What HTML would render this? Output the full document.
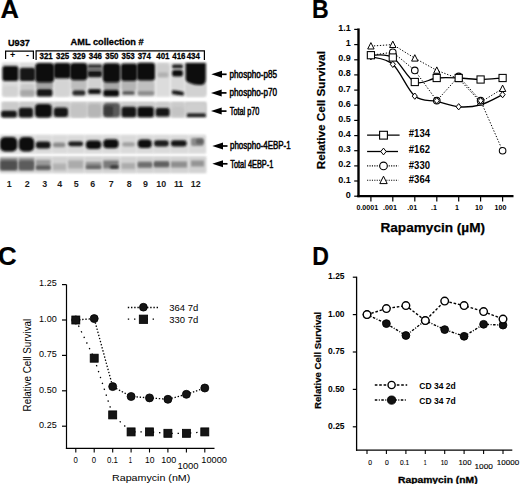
<!DOCTYPE html><html><head><meta charset="utf-8"><style>html,body{margin:0;padding:0;background:#fff;}svg{display:block;}text{font-family:"Liberation Sans", sans-serif;}</style></head><body>
<svg width="520" height="484" viewBox="0 0 520 484">
<defs><filter id="b1" x="-30%" y="-50%" width="160%" height="200%"><feGaussianBlur stdDeviation="1.3"/></filter><filter id="b2" x="-30%" y="-50%" width="160%" height="200%"><feGaussianBlur stdDeviation="0.85"/></filter><filter id="b3" x="-30%" y="-50%" width="160%" height="200%"><feGaussianBlur stdDeviation="1.8"/></filter></defs>
<rect width="520" height="484" fill="#fff"/>
<text x="0.5" y="17.8" font-size="25.5" font-weight="bold" text-anchor="start" fill="#000" stroke="#000" stroke-width="0.2">A</text>
<text x="312.1" y="17.6" font-size="25.5" font-weight="bold" text-anchor="start" fill="#000" textLength="16.7" lengthAdjust="spacingAndGlyphs" stroke="#000" stroke-width="0.2">B</text>
<text x="-2.1" y="264.7" font-size="25.8" font-weight="bold" text-anchor="start" fill="#000" stroke="#000" stroke-width="0.2">C</text>
<text x="312.3" y="264.6" font-size="25.5" font-weight="bold" text-anchor="start" fill="#000" textLength="16.7" lengthAdjust="spacingAndGlyphs" stroke="#000" stroke-width="0.2">D</text>
<text x="8.0" y="46.3" font-size="9.9" font-weight="bold" text-anchor="start" fill="#000" textLength="21.8" lengthAdjust="spacingAndGlyphs" stroke="#000" stroke-width="0.3">U937</text>
<text x="70.6" y="45.2" font-size="9.6" font-weight="bold" text-anchor="start" fill="#000" textLength="73" lengthAdjust="spacingAndGlyphs" stroke="#000" stroke-width="0.3">AML collection #</text>
<path d="M5.6,59 V51.2 H33.4 V59" fill="none" stroke="#000" stroke-width="1.2"/>
<path d="M36.1,60 V50.9 H204.4 V60" fill="none" stroke="#000" stroke-width="1.2"/>
<text x="12.6" y="57.6" font-size="9" font-weight="bold" text-anchor="middle" fill="#000" >+</text>
<text x="27.4" y="57.6" font-size="9" font-weight="bold" text-anchor="middle" fill="#000" >-</text>
<text x="39.5" y="59.4" font-size="9.9" font-weight="bold" text-anchor="start" fill="#000" textLength="13.2" lengthAdjust="spacingAndGlyphs" stroke="#000" stroke-width="0.3">321</text>
<text x="56.0" y="59.4" font-size="9.9" font-weight="bold" text-anchor="start" fill="#000" textLength="13.2" lengthAdjust="spacingAndGlyphs" stroke="#000" stroke-width="0.3">325</text>
<text x="72.4" y="59.4" font-size="9.9" font-weight="bold" text-anchor="start" fill="#000" textLength="13.2" lengthAdjust="spacingAndGlyphs" stroke="#000" stroke-width="0.3">329</text>
<text x="88.8" y="59.4" font-size="9.9" font-weight="bold" text-anchor="start" fill="#000" textLength="13.2" lengthAdjust="spacingAndGlyphs" stroke="#000" stroke-width="0.3">346</text>
<text x="105.3" y="59.4" font-size="9.9" font-weight="bold" text-anchor="start" fill="#000" textLength="13.2" lengthAdjust="spacingAndGlyphs" stroke="#000" stroke-width="0.3">350</text>
<text x="121.5" y="59.4" font-size="9.9" font-weight="bold" text-anchor="start" fill="#000" textLength="13.2" lengthAdjust="spacingAndGlyphs" stroke="#000" stroke-width="0.3">353</text>
<text x="137.7" y="59.4" font-size="9.9" font-weight="bold" text-anchor="start" fill="#000" textLength="13.2" lengthAdjust="spacingAndGlyphs" stroke="#000" stroke-width="0.3">374</text>
<text x="156.3" y="59.4" font-size="9.9" font-weight="bold" text-anchor="start" fill="#000" textLength="13.2" lengthAdjust="spacingAndGlyphs" stroke="#000" stroke-width="0.3">401</text>
<text x="172.3" y="59.4" font-size="9.9" font-weight="bold" text-anchor="start" fill="#000" textLength="13.2" lengthAdjust="spacingAndGlyphs" stroke="#000" stroke-width="0.3">416</text>
<text x="186.7" y="59.4" font-size="9.9" font-weight="bold" text-anchor="start" fill="#000" textLength="13.2" lengthAdjust="spacingAndGlyphs" stroke="#000" stroke-width="0.3">434</text>
<rect x="2" y="62.7" width="204.3" height="33.9" fill="#ebebeb" filter="url(#b2)"/>
<rect x="1.5" y="101.9" width="205" height="15.5" fill="#d6d6d6" filter="url(#b2)"/>
<rect x="0" y="134.7" width="206" height="19" fill="#e6e6e6" filter="url(#b2)"/>
<rect x="0" y="156.2" width="206.5" height="17" fill="#e0e0e0" filter="url(#b2)"/>
<rect x="2.5" y="63.0" width="15.5" height="33.4" rx="0.0" fill="#dcdcdc" filter="url(#b2)"/>
<rect x="2.5" y="102.2" width="15.5" height="15.1" rx="0.0" fill="#cbcbcb" filter="url(#b2)"/>
<rect x="20.0" y="63.0" width="14.7" height="33.4" rx="0.0" fill="#dcdcdc" filter="url(#b2)"/>
<rect x="20.0" y="102.2" width="14.7" height="15.1" rx="0.0" fill="#cbcbcb" filter="url(#b2)"/>
<rect x="35.5" y="63.0" width="18.0" height="33.4" rx="0.0" fill="#dcdcdc" filter="url(#b2)"/>
<rect x="35.5" y="102.2" width="18.0" height="15.1" rx="0.0" fill="#cbcbcb" filter="url(#b2)"/>
<rect x="54.3" y="63.0" width="15.7" height="33.4" rx="0.0" fill="#dcdcdc" filter="url(#b2)"/>
<rect x="54.3" y="102.2" width="15.7" height="15.1" rx="0.0" fill="#cbcbcb" filter="url(#b2)"/>
<rect x="71.0" y="63.0" width="16.0" height="33.4" rx="0.0" fill="#dcdcdc" filter="url(#b2)"/>
<rect x="71.0" y="102.2" width="16.0" height="15.1" rx="0.0" fill="#cbcbcb" filter="url(#b2)"/>
<rect x="88.0" y="63.0" width="13.6" height="33.4" rx="0.0" fill="#dcdcdc" filter="url(#b2)"/>
<rect x="88.0" y="102.2" width="13.6" height="15.1" rx="0.0" fill="#cbcbcb" filter="url(#b2)"/>
<rect x="103.3" y="63.0" width="16.7" height="33.4" rx="0.0" fill="#dcdcdc" filter="url(#b2)"/>
<rect x="103.3" y="102.2" width="16.7" height="15.1" rx="0.0" fill="#cbcbcb" filter="url(#b2)"/>
<rect x="121.5" y="63.0" width="15.1" height="33.4" rx="0.0" fill="#dcdcdc" filter="url(#b2)"/>
<rect x="121.5" y="102.2" width="15.1" height="15.1" rx="0.0" fill="#cbcbcb" filter="url(#b2)"/>
<rect x="137.5" y="63.0" width="17.0" height="33.4" rx="0.0" fill="#dcdcdc" filter="url(#b2)"/>
<rect x="137.5" y="102.2" width="17.0" height="15.1" rx="0.0" fill="#cbcbcb" filter="url(#b2)"/>
<rect x="156.5" y="63.0" width="13.0" height="33.4" rx="0.0" fill="#dcdcdc" filter="url(#b2)"/>
<rect x="156.5" y="102.2" width="13.0" height="15.1" rx="0.0" fill="#cbcbcb" filter="url(#b2)"/>
<rect x="171.5" y="63.0" width="12.5" height="33.4" rx="0.0" fill="#dcdcdc" filter="url(#b2)"/>
<rect x="171.5" y="102.2" width="12.5" height="15.1" rx="0.0" fill="#cbcbcb" filter="url(#b2)"/>
<rect x="185.4" y="63.0" width="20.6" height="33.4" rx="0.0" fill="#dcdcdc" filter="url(#b2)"/>
<rect x="185.4" y="102.2" width="20.6" height="15.1" rx="0.0" fill="#cbcbcb" filter="url(#b2)"/>
<rect x="3.0" y="86.0" width="14.5" height="10.3" rx="2.6" fill="#d2d2d2" filter="url(#b1)"/>
<rect x="20.5" y="84.0" width="13.8" height="12.3" rx="3.1" fill="#cacaca" filter="url(#b1)"/>
<rect x="20.5" y="90.0" width="13.8" height="6.3" rx="1.6" fill="#a8a8a8" filter="url(#b1)"/>
<rect x="36.0" y="81.0" width="17.0" height="8.0" rx="2.0" fill="#a4a4a4" filter="url(#b1)"/>
<rect x="55.0" y="80.0" width="14.5" height="16.3" rx="3.6" fill="#d4d4d4" filter="url(#b1)"/>
<rect x="71.0" y="79.0" width="15.5" height="11.0" rx="2.8" fill="#bdbdbd" filter="url(#b1)"/>
<rect x="88.5" y="77.0" width="12.5" height="12.0" rx="3.0" fill="#d2d2d2" filter="url(#b1)"/>
<rect x="103.5" y="81.0" width="16.3" height="9.0" rx="2.2" fill="#a8a8a8" filter="url(#b1)"/>
<rect x="121.5" y="80.0" width="14.9" height="11.0" rx="2.8" fill="#b4b4b4" filter="url(#b1)"/>
<rect x="137.5" y="80.0" width="16.9" height="16.0" rx="4.0" fill="#c0c0c0" filter="url(#b1)"/>
<rect x="156.5" y="64.0" width="12.0" height="8.0" rx="2.0" fill="#d4d4d4" filter="url(#b1)"/>
<rect x="172.0" y="77.0" width="11.7" height="13.0" rx="2.9" fill="#d8d8d8" filter="url(#b1)"/>
<rect x="185.5" y="82.0" width="20.5" height="14.5" rx="3.6" fill="#d2d2d2" filter="url(#b1)"/>
<rect x="2.4" y="66.0" width="16.0" height="15.0" rx="2.5" fill="#0e0e0e" filter="url(#b2)"/>
<rect x="19.6" y="67.8" width="15.6" height="13.2" rx="2.5" fill="#141414" filter="url(#b2)"/>
<rect x="35.2" y="63.0" width="19.0" height="19.5" rx="4.0" fill="#0a0a0a" filter="url(#b2)"/>
<rect x="53.8" y="63.0" width="16.8" height="15.6" rx="3.0" fill="#0e0e0e" filter="url(#b2)"/>
<rect x="70.0" y="63.0" width="17.6" height="17.2" rx="4.0" fill="#0a0a0a" filter="url(#b2)"/>
<rect x="87.7" y="64.2" width="14.3" height="4.3" rx="1.5" fill="#383838" filter="url(#b2)"/>
<rect x="87.7" y="70.3" width="14.3" height="7.0" rx="2.0" fill="#121212" filter="url(#b2)"/>
<rect x="87.7" y="68.3" width="14.3" height="2.4" rx="0.0" fill="#606060" filter="url(#b2)"/>
<rect x="102.7" y="63.2" width="17.7" height="19.3" rx="4.0" fill="#0a0a0a" filter="url(#b2)"/>
<rect x="120.9" y="63.6" width="16.3" height="17.4" rx="3.0" fill="#0e0e0e" filter="url(#b2)"/>
<rect x="136.9" y="62.8" width="18.1" height="17.7" rx="3.0" fill="#0a0a0a" filter="url(#b2)"/>
<rect x="157.0" y="64.0" width="12.0" height="14.0" rx="3.0" fill="#cdcdcd" filter="url(#b1)"/>
<rect x="158.1" y="72.5" width="9.9" height="4.5" rx="1.1" fill="#b0b0b0" filter="url(#b1)"/>
<rect x="172.1" y="64.5" width="10.8" height="3.8" rx="1.5" fill="#1a1a1a" filter="url(#b2)"/>
<rect x="172.1" y="69.9" width="10.8" height="6.6" rx="2.0" fill="#111" filter="url(#b2)"/>
<path d="M185.6,63 H205.8 V79 C205.8,84 203,85.5 199,85 C194,84.8 190,83.5 187.5,82 C186,81 185.6,80 185.6,78 Z" fill="#0c0c0c" filter="url(#b2)"/>
<rect x="36.7" y="88.9" width="15.7" height="7.5" rx="2.0" fill="#141414" filter="url(#b2)"/>
<rect x="72.5" y="90.2" width="12.8" height="5.3" rx="2.0" fill="#2a2a2a" filter="url(#b2)"/>
<rect x="88.2" y="88.9" width="12.6" height="5.1" rx="1.5" fill="#121212" filter="url(#b2)"/>
<rect x="103.3" y="89.8" width="15.7" height="6.6" rx="2.0" fill="#101010" filter="url(#b2)"/>
<rect x="122.3" y="91.0" width="12.4" height="3.7" rx="1.5" fill="#5a5a5a" filter="url(#b2)"/>
<rect x="138.0" y="91.2" width="16.0" height="3.7" rx="1.5" fill="#8a8a8a" filter="url(#b2)"/>
<path d="M172.1,90.2 Q178,90.5 183.7,92 V95.5 Q178,95 172.1,94 Z" fill="#121212" filter="url(#b2)"/>
<rect x="1.1" y="110.8" width="15.7" height="6.7" rx="2.0" fill="#141414" filter="url(#b2)"/>
<rect x="18.8" y="107.8" width="14.2" height="9.7" rx="2.5" fill="#141414" filter="url(#b2)"/>
<rect x="35.0" y="104.0" width="16.8" height="13.5" rx="4.0" fill="#0c0c0c" filter="url(#b2)"/>
<rect x="53.8" y="107.4" width="14.2" height="9.5" rx="3.0" fill="#161616" filter="url(#b2)"/>
<rect x="71.0" y="104.0" width="15.0" height="13.0" rx="3.2" fill="#c4c4c4" filter="url(#b1)"/>
<rect x="88.0" y="104.0" width="13.0" height="13.0" rx="3.2" fill="#b6b6b6" filter="url(#b1)"/>
<rect x="103.4" y="103.0" width="16.6" height="14.3" rx="3.6" fill="#5a5a5a" filter="url(#b1)"/>
<rect x="104.0" y="106.0" width="9.0" height="10.0" rx="2.2" fill="#3a3a3a" filter="url(#b1)"/>
<rect x="121.5" y="106.8" width="14.7" height="10.5" rx="2.5" fill="#161616" filter="url(#b2)"/>
<rect x="137.4" y="106.8" width="16.4" height="10.5" rx="2.5" fill="#101010" filter="url(#b2)"/>
<rect x="155.6" y="107.9" width="14.0" height="8.6" rx="2.5" fill="#121212" filter="url(#b2)"/>
<rect x="172.0" y="107.0" width="12.0" height="9.0" rx="2.2" fill="#c4c4c4" filter="url(#b1)"/>
<rect x="186.0" y="104.0" width="19.7" height="9.0" rx="2.2" fill="#cfcfcf" filter="url(#b1)"/>
<rect x="187.0" y="113.5" width="18.7" height="3.6" rx="0.9" fill="#1a1a1a" filter="url(#b2)"/>
<rect x="0.5" y="135.5" width="17.0" height="17.5" rx="0.0" fill="#dadada" filter="url(#b1)"/>
<rect x="0.5" y="157.0" width="17.0" height="15.5" rx="0.0" fill="#d2d2d2" filter="url(#b1)"/>
<rect x="18.5" y="135.5" width="16.0" height="17.5" rx="0.0" fill="#dadada" filter="url(#b1)"/>
<rect x="18.5" y="157.0" width="16.0" height="15.5" rx="0.0" fill="#d2d2d2" filter="url(#b1)"/>
<rect x="35.5" y="135.5" width="16.0" height="17.5" rx="0.0" fill="#dadada" filter="url(#b1)"/>
<rect x="35.5" y="157.0" width="16.0" height="15.5" rx="0.0" fill="#d2d2d2" filter="url(#b1)"/>
<rect x="52.5" y="135.5" width="14.5" height="17.5" rx="0.0" fill="#dadada" filter="url(#b1)"/>
<rect x="52.5" y="157.0" width="14.5" height="15.5" rx="0.0" fill="#d2d2d2" filter="url(#b1)"/>
<rect x="67.5" y="135.5" width="16.5" height="17.5" rx="0.0" fill="#dadada" filter="url(#b1)"/>
<rect x="67.5" y="157.0" width="16.5" height="15.5" rx="0.0" fill="#d2d2d2" filter="url(#b1)"/>
<rect x="85.0" y="135.5" width="17.0" height="17.5" rx="0.0" fill="#dadada" filter="url(#b1)"/>
<rect x="85.0" y="157.0" width="17.0" height="15.5" rx="0.0" fill="#d2d2d2" filter="url(#b1)"/>
<rect x="102.5" y="135.5" width="17.0" height="17.5" rx="0.0" fill="#dadada" filter="url(#b1)"/>
<rect x="102.5" y="157.0" width="17.0" height="15.5" rx="0.0" fill="#d2d2d2" filter="url(#b1)"/>
<rect x="121.0" y="135.5" width="15.0" height="17.5" rx="0.0" fill="#dadada" filter="url(#b1)"/>
<rect x="121.0" y="157.0" width="15.0" height="15.5" rx="0.0" fill="#d2d2d2" filter="url(#b1)"/>
<rect x="137.0" y="135.5" width="16.0" height="17.5" rx="0.0" fill="#dadada" filter="url(#b1)"/>
<rect x="137.0" y="157.0" width="16.0" height="15.5" rx="0.0" fill="#d2d2d2" filter="url(#b1)"/>
<rect x="153.5" y="135.5" width="16.5" height="17.5" rx="0.0" fill="#dadada" filter="url(#b1)"/>
<rect x="153.5" y="157.0" width="16.5" height="15.5" rx="0.0" fill="#d2d2d2" filter="url(#b1)"/>
<rect x="170.5" y="135.5" width="17.5" height="17.5" rx="0.0" fill="#dadada" filter="url(#b1)"/>
<rect x="170.5" y="157.0" width="17.5" height="15.5" rx="0.0" fill="#d2d2d2" filter="url(#b1)"/>
<rect x="189.0" y="135.5" width="16.5" height="17.5" rx="0.0" fill="#dadada" filter="url(#b1)"/>
<rect x="189.0" y="157.0" width="16.5" height="15.5" rx="0.0" fill="#d2d2d2" filter="url(#b1)"/>
<rect x="0.0" y="137.0" width="17.3" height="14.5" rx="5.0" fill="#0a0a0a" filter="url(#b2)"/>
<rect x="18.8" y="137.0" width="15.4" height="14.5" rx="5.0" fill="#0c0c0c" filter="url(#b2)"/>
<rect x="35.8" y="141.6" width="14.7" height="7.0" rx="3.0" fill="#121212" filter="url(#b2)"/>
<rect x="53.0" y="142.4" width="12.3" height="4.8" rx="2.0" fill="#8c8c8c" filter="url(#b1)"/>
<rect x="68.2" y="141.4" width="15.0" height="4.8" rx="2.5" fill="#1a1a1a" filter="url(#b2)"/>
<rect x="85.8" y="140.4" width="15.5" height="8.6" rx="4.0" fill="#0c0c0c" filter="url(#b2)"/>
<rect x="103.2" y="139.3" width="15.4" height="9.0" rx="4.0" fill="#0a0a0a" filter="url(#b2)"/>
<rect x="122.2" y="142.3" width="12.7" height="4.2" rx="2.0" fill="#a0a0a0" filter="url(#b1)"/>
<rect x="137.7" y="139.5" width="14.1" height="8.5" rx="4.0" fill="#0c0c0c" filter="url(#b2)"/>
<rect x="154.0" y="140.2" width="14.8" height="6.3" rx="3.0" fill="#1c1c1c" filter="url(#b2)"/>
<rect x="170.9" y="140.2" width="15.8" height="6.3" rx="3.0" fill="#181818" filter="url(#b2)"/>
<rect x="191.0" y="138.0" width="12.7" height="7.9" rx="2.0" fill="#8a8a8a" filter="url(#b1)"/>
<rect x="196.0" y="139.0" width="7.5" height="5.0" rx="2.0" fill="#606060" filter="url(#b1)"/>
<rect x="0.0" y="158.0" width="17.5" height="12.5" rx="0.0" fill="#8a8a8a" filter="url(#b1)"/>
<rect x="0.3" y="160.5" width="17.0" height="9.5" rx="2.0" fill="#505050" filter="url(#b1)"/>
<rect x="18.6" y="158.0" width="15.6" height="12.5" rx="0.0" fill="#909090" filter="url(#b1)"/>
<rect x="18.8" y="160.5" width="15.2" height="9.5" rx="2.0" fill="#5c5c5c" filter="url(#b1)"/>
<rect x="35.8" y="160.0" width="14.7" height="10.0" rx="0.0" fill="#9a9a9a" filter="url(#b1)"/>
<rect x="36.0" y="165.5" width="14.5" height="4.0" rx="1.5" fill="#5a5a5a" filter="url(#b1)"/>
<rect x="53.0" y="163.5" width="13.0" height="6.5" rx="0.0" fill="#b2b2b2" filter="url(#b1)"/>
<rect x="68.2" y="160.5" width="15.0" height="8.0" rx="0.0" fill="#ababab" filter="url(#b1)"/>
<rect x="85.8" y="162.0" width="15.5" height="7.0" rx="0.0" fill="#929292" filter="url(#b1)"/>
<rect x="86.0" y="165.5" width="15.0" height="3.0" rx="1.5" fill="#606060" filter="url(#b1)"/>
<rect x="103.2" y="160.5" width="15.4" height="8.0" rx="0.0" fill="#7a7a7a" filter="url(#b1)"/>
<rect x="110.0" y="165.5" width="8.6" height="3.0" rx="1.5" fill="#2e2e2e" filter="url(#b1)"/>
<rect x="121.5" y="163.0" width="13.5" height="6.0" rx="0.0" fill="#acacac" filter="url(#b1)"/>
<rect x="137.7" y="161.5" width="14.3" height="6.5" rx="0.0" fill="#8a8a8a" filter="url(#b1)"/>
<rect x="138.0" y="163.0" width="14.0" height="3.5" rx="1.5" fill="#6a6a6a" filter="url(#b1)"/>
<rect x="154.0" y="161.0" width="15.0" height="6.5" rx="0.0" fill="#7a7a7a" filter="url(#b1)"/>
<rect x="154.0" y="162.5" width="15.0" height="3.5" rx="1.5" fill="#5c5c5c" filter="url(#b1)"/>
<rect x="171.0" y="161.5" width="16.0" height="6.0" rx="0.0" fill="#8e8e8e" filter="url(#b1)"/>
<rect x="191.0" y="160.5" width="13.0" height="6.0" rx="0.0" fill="#949494" filter="url(#b1)"/>
<path d="M211.3,74.3 L222.0,70.8 L222.0,77.8 Z" fill="#000"/>
<line x1="220.8" y1="74.3" x2="226.6" y2="74.3" stroke="#000" stroke-width="1.7"/>
<text x="229.6" y="77.9" font-size="10.5" font-weight="normal" text-anchor="start" fill="#000" textLength="47.4" lengthAdjust="spacingAndGlyphs" stroke="#000" stroke-width="0.5">phospho-p85</text>
<path d="M211.0,92.9 L221.7,89.4 L221.7,96.4 Z" fill="#000"/>
<line x1="220.5" y1="92.9" x2="226.5" y2="92.9" stroke="#000" stroke-width="1.7"/>
<text x="229.6" y="96.2" font-size="10.5" font-weight="normal" text-anchor="start" fill="#000" textLength="47.4" lengthAdjust="spacingAndGlyphs" stroke="#000" stroke-width="0.5">phospho-p70</text>
<path d="M211.0,111.1 L221.7,107.6 L221.7,114.6 Z" fill="#000"/>
<line x1="220.5" y1="111.1" x2="226.5" y2="111.1" stroke="#000" stroke-width="1.7"/>
<text x="229.8" y="115.0" font-size="10.3" font-weight="normal" text-anchor="start" fill="#000" textLength="29.6" lengthAdjust="spacingAndGlyphs" stroke="#000" stroke-width="0.5">Total p70</text>
<path d="M212.3,146.0 L223.0,142.5 L223.0,149.5 Z" fill="#000"/>
<line x1="221.8" y1="146.0" x2="227.5" y2="146.0" stroke="#000" stroke-width="1.7"/>
<text x="230.0" y="149.4" font-size="10.5" font-weight="normal" text-anchor="start" fill="#000" textLength="60.7" lengthAdjust="spacingAndGlyphs" stroke="#000" stroke-width="0.5">phospho-4EBP-1</text>
<path d="M212.3,163.8 L223.0,160.3 L223.0,167.3 Z" fill="#000"/>
<line x1="221.8" y1="163.8" x2="227.5" y2="163.8" stroke="#000" stroke-width="1.7"/>
<text x="230.2" y="167.8" font-size="10.3" font-weight="normal" text-anchor="start" fill="#000" textLength="43.2" lengthAdjust="spacingAndGlyphs" stroke="#000" stroke-width="0.5">Total 4EBP-1</text>
<text x="9.1" y="187.1" font-size="8.9" font-weight="bold" text-anchor="middle" fill="#1c1c1c" >1</text>
<text x="27.2" y="187.1" font-size="8.9" font-weight="bold" text-anchor="middle" fill="#1c1c1c" >2</text>
<text x="44.6" y="187.1" font-size="8.9" font-weight="bold" text-anchor="middle" fill="#1c1c1c" >3</text>
<text x="59.8" y="187.1" font-size="8.9" font-weight="bold" text-anchor="middle" fill="#1c1c1c" >4</text>
<text x="76.3" y="187.1" font-size="8.9" font-weight="bold" text-anchor="middle" fill="#1c1c1c" >5</text>
<text x="92.7" y="187.1" font-size="8.9" font-weight="bold" text-anchor="middle" fill="#1c1c1c" >6</text>
<text x="111.1" y="187.1" font-size="8.9" font-weight="bold" text-anchor="middle" fill="#1c1c1c" >7</text>
<text x="129.1" y="187.1" font-size="8.9" font-weight="bold" text-anchor="middle" fill="#1c1c1c" >8</text>
<text x="145.5" y="187.1" font-size="8.9" font-weight="bold" text-anchor="middle" fill="#1c1c1c" >9</text>
<text x="161.3" y="187.1" font-size="8.9" font-weight="bold" text-anchor="middle" fill="#1c1c1c" >10</text>
<text x="178.6" y="187.1" font-size="8.9" font-weight="bold" text-anchor="middle" fill="#1c1c1c" >11</text>
<text x="195.7" y="187.1" font-size="8.9" font-weight="bold" text-anchor="middle" fill="#1c1c1c" >12</text>
<line x1="358.5" y1="28.4" x2="358.5" y2="197.2" stroke="#000" stroke-width="2.4"/>
<line x1="357.3" y1="196.2" x2="513.5" y2="196.2" stroke="#000" stroke-width="2.3"/>
<line x1="354.2" y1="196.2" x2="358" y2="196.2" stroke="#000" stroke-width="1.2"/>
<text x="350.8" y="197.7" font-size="9.8" font-weight="bold" text-anchor="end" fill="#000" textLength="5.01" lengthAdjust="spacingAndGlyphs" >0</text>
<line x1="354.2" y1="181.0" x2="358" y2="181.0" stroke="#000" stroke-width="1.2"/>
<text x="350.8" y="182.5" font-size="9.8" font-weight="bold" text-anchor="end" fill="#000" textLength="12.51" lengthAdjust="spacingAndGlyphs" >0.1</text>
<line x1="354.2" y1="165.9" x2="358" y2="165.9" stroke="#000" stroke-width="1.2"/>
<text x="350.8" y="167.4" font-size="9.8" font-weight="bold" text-anchor="end" fill="#000" textLength="12.51" lengthAdjust="spacingAndGlyphs" >0.2</text>
<line x1="354.2" y1="150.7" x2="358" y2="150.7" stroke="#000" stroke-width="1.2"/>
<text x="350.8" y="152.2" font-size="9.8" font-weight="bold" text-anchor="end" fill="#000" textLength="12.51" lengthAdjust="spacingAndGlyphs" >0.3</text>
<line x1="354.2" y1="135.6" x2="358" y2="135.6" stroke="#000" stroke-width="1.2"/>
<text x="350.8" y="137.1" font-size="9.8" font-weight="bold" text-anchor="end" fill="#000" textLength="12.51" lengthAdjust="spacingAndGlyphs" >0.4</text>
<line x1="354.2" y1="120.4" x2="358" y2="120.4" stroke="#000" stroke-width="1.2"/>
<text x="350.8" y="121.9" font-size="9.8" font-weight="bold" text-anchor="end" fill="#000" textLength="12.51" lengthAdjust="spacingAndGlyphs" >0.5</text>
<line x1="354.2" y1="105.2" x2="358" y2="105.2" stroke="#000" stroke-width="1.2"/>
<text x="350.8" y="106.7" font-size="9.8" font-weight="bold" text-anchor="end" fill="#000" textLength="12.51" lengthAdjust="spacingAndGlyphs" >0.6</text>
<line x1="354.2" y1="90.1" x2="358" y2="90.1" stroke="#000" stroke-width="1.2"/>
<text x="350.8" y="91.6" font-size="9.8" font-weight="bold" text-anchor="end" fill="#000" textLength="12.51" lengthAdjust="spacingAndGlyphs" >0.7</text>
<line x1="354.2" y1="74.9" x2="358" y2="74.9" stroke="#000" stroke-width="1.2"/>
<text x="350.8" y="76.4" font-size="9.8" font-weight="bold" text-anchor="end" fill="#000" textLength="12.51" lengthAdjust="spacingAndGlyphs" >0.8</text>
<line x1="354.2" y1="59.8" x2="358" y2="59.8" stroke="#000" stroke-width="1.2"/>
<text x="350.8" y="61.3" font-size="9.8" font-weight="bold" text-anchor="end" fill="#000" textLength="12.51" lengthAdjust="spacingAndGlyphs" >0.9</text>
<line x1="354.2" y1="44.6" x2="358" y2="44.6" stroke="#000" stroke-width="1.2"/>
<text x="350.8" y="46.1" font-size="9.8" font-weight="bold" text-anchor="end" fill="#000" textLength="5.01" lengthAdjust="spacingAndGlyphs" >1</text>
<line x1="354.2" y1="29.4" x2="358" y2="29.4" stroke="#000" stroke-width="1.2"/>
<text x="350.8" y="30.9" font-size="9.8" font-weight="bold" text-anchor="end" fill="#000" textLength="12.51" lengthAdjust="spacingAndGlyphs" >1.1</text>
<line x1="370.9" y1="196.2" x2="370.9" y2="201.6" stroke="#000" stroke-width="1.2"/>
<line x1="392.8" y1="196.2" x2="392.8" y2="201.6" stroke="#000" stroke-width="1.2"/>
<line x1="414.8" y1="196.2" x2="414.8" y2="201.6" stroke="#000" stroke-width="1.2"/>
<line x1="436.8" y1="196.2" x2="436.8" y2="201.6" stroke="#000" stroke-width="1.2"/>
<line x1="458.7" y1="196.2" x2="458.7" y2="201.6" stroke="#000" stroke-width="1.2"/>
<line x1="480.6" y1="196.2" x2="480.6" y2="201.6" stroke="#000" stroke-width="1.2"/>
<line x1="502.6" y1="196.2" x2="502.6" y2="201.6" stroke="#000" stroke-width="1.2"/>
<text x="367.3" y="209.9" font-size="7.7" font-weight="bold" text-anchor="middle" fill="#000" textLength="21.72" lengthAdjust="spacingAndGlyphs" >0.0001</text>
<text x="390.0" y="209.9" font-size="7.7" font-weight="bold" text-anchor="middle" fill="#000" textLength="13.82" lengthAdjust="spacingAndGlyphs" >.001</text>
<text x="412.2" y="209.9" font-size="7.7" font-weight="bold" text-anchor="middle" fill="#000" textLength="9.87" lengthAdjust="spacingAndGlyphs" >.01</text>
<text x="434.0" y="209.9" font-size="7.7" font-weight="bold" text-anchor="middle" fill="#000" textLength="5.92" lengthAdjust="spacingAndGlyphs" >.1</text>
<text x="457.0" y="209.9" font-size="7.7" font-weight="bold" text-anchor="middle" fill="#000" textLength="3.95" lengthAdjust="spacingAndGlyphs" >1</text>
<text x="479.0" y="209.9" font-size="7.7" font-weight="bold" text-anchor="middle" fill="#000" textLength="7.9" lengthAdjust="spacingAndGlyphs" >10</text>
<text x="500.5" y="209.9" font-size="7.7" font-weight="bold" text-anchor="middle" fill="#000" textLength="11.85" lengthAdjust="spacingAndGlyphs" >100</text>
<text x="380.5" y="231.9" font-size="13.1" font-weight="bold" text-anchor="start" fill="#000" textLength="104.5" lengthAdjust="spacingAndGlyphs" stroke="#000" stroke-width="0.25">Rapamycin (µM)</text>
<text transform="translate(325.4,169.3) rotate(-90)" font-size="11.4" font-weight="bold" textLength="118.4" stroke="#000" stroke-width="0.2" lengthAdjust="spacingAndGlyphs">Relative Cell Survival</text>
<path d="M370.9,46.1 L392.8,44.6 L414.8,58.2 L436.8,70.4 L458.7,78.7 L480.6,102.2 L502.6,88.6" fill="none" stroke="#000" stroke-width="1" stroke-dasharray="1.3,1.7"/>
<path d="M370.9,55.2 L392.8,52.2 L414.8,70.4 L436.8,100.7 L458.7,76.4 L480.6,100.7 L502.6,150.7" fill="none" stroke="#000" stroke-width="1" stroke-dasharray="1.3,1.7"/>
<path d="M370.9,55.2 C374.6,55.6 385.5,53.0 392.8,57.5 C400.2,62.0 407.5,78.6 414.8,82.0 C422.1,85.5 429.4,78.6 436.8,78.0 C444.1,77.3 451.4,77.7 458.7,78.0 C466.0,78.2 473.3,79.5 480.6,79.5 C488.0,79.5 498.9,78.2 502.6,78.0" fill="none" stroke="#000" stroke-width="1.3"/>
<path d="M370.9,56.7 C374.6,58.0 385.5,57.7 392.8,64.3 C400.2,70.9 407.5,90.0 414.8,96.1 C422.1,102.3 429.4,99.7 436.8,101.4 C444.1,103.2 451.4,106.2 458.7,106.8 C466.0,107.3 473.3,106.8 480.6,104.8 C488.0,102.8 498.9,96.3 502.6,94.6" fill="none" stroke="#000" stroke-width="1.3"/>
<path d="M370.9,42.6 L374.1,49.0 L367.7,49.0 Z" fill="#fff" stroke="#000" stroke-width="1.0"/>
<path d="M392.8,41.1 L396.0,47.5 L389.6,47.5 Z" fill="#fff" stroke="#000" stroke-width="1.0"/>
<path d="M414.8,54.7 L418.0,61.1 L411.6,61.1 Z" fill="#fff" stroke="#000" stroke-width="1.0"/>
<path d="M436.8,66.9 L439.9,73.3 L433.6,73.3 Z" fill="#fff" stroke="#000" stroke-width="1.0"/>
<path d="M458.7,75.2 L461.9,81.6 L455.5,81.6 Z" fill="#fff" stroke="#000" stroke-width="1.0"/>
<path d="M480.6,98.7 L483.8,105.1 L477.4,105.1 Z" fill="#fff" stroke="#000" stroke-width="1.0"/>
<path d="M502.6,85.1 L505.8,91.5 L499.4,91.5 Z" fill="#fff" stroke="#000" stroke-width="1.0"/>
<circle cx="370.9" cy="55.2" r="3.3" fill="#fff" stroke="#000" stroke-width="1.05"/>
<circle cx="392.8" cy="52.2" r="3.3" fill="#fff" stroke="#000" stroke-width="1.05"/>
<circle cx="414.8" cy="70.4" r="3.3" fill="#fff" stroke="#000" stroke-width="1.05"/>
<circle cx="436.8" cy="100.7" r="3.3" fill="#fff" stroke="#000" stroke-width="1.05"/>
<circle cx="458.7" cy="76.4" r="3.3" fill="#fff" stroke="#000" stroke-width="1.05"/>
<circle cx="480.6" cy="100.7" r="3.3" fill="#fff" stroke="#000" stroke-width="1.05"/>
<circle cx="502.6" cy="150.7" r="3.3" fill="#fff" stroke="#000" stroke-width="1.05"/>
<path d="M370.9,53.6 L373.4,56.7 L370.9,59.9 L368.3,56.7 Z" fill="#fff" stroke="#000" stroke-width="1.0"/>
<path d="M392.8,61.2 L395.4,64.3 L392.8,67.5 L390.3,64.3 Z" fill="#fff" stroke="#000" stroke-width="1.0"/>
<path d="M414.8,93.0 L417.3,96.1 L414.8,99.3 L412.2,96.1 Z" fill="#fff" stroke="#000" stroke-width="1.0"/>
<path d="M436.8,97.5 L439.3,100.7 L436.8,103.8 L434.2,100.7 Z" fill="#fff" stroke="#000" stroke-width="1.0"/>
<path d="M458.7,103.6 L461.2,106.8 L458.7,109.9 L456.1,106.8 Z" fill="#fff" stroke="#000" stroke-width="1.0"/>
<path d="M480.6,97.5 L483.2,100.7 L480.6,103.8 L478.1,100.7 Z" fill="#fff" stroke="#000" stroke-width="1.0"/>
<path d="M502.6,91.5 L505.1,94.6 L502.6,97.8 L500.0,94.6 Z" fill="#fff" stroke="#000" stroke-width="1.0"/>
<rect x="367.3" y="51.6" width="7.2" height="7.2" fill="#fff" stroke="#000" stroke-width="1.05"/>
<rect x="389.2" y="53.9" width="7.2" height="7.2" fill="#fff" stroke="#000" stroke-width="1.05"/>
<rect x="411.2" y="78.4" width="7.2" height="7.2" fill="#fff" stroke="#000" stroke-width="1.05"/>
<rect x="433.1" y="74.4" width="7.2" height="7.2" fill="#fff" stroke="#000" stroke-width="1.05"/>
<rect x="455.1" y="74.4" width="7.2" height="7.2" fill="#fff" stroke="#000" stroke-width="1.05"/>
<rect x="477.0" y="75.9" width="7.2" height="7.2" fill="#fff" stroke="#000" stroke-width="1.05"/>
<rect x="499.0" y="74.4" width="7.2" height="7.2" fill="#fff" stroke="#000" stroke-width="1.05"/>
<line x1="367.1" y1="135.2" x2="399.6" y2="135.2" stroke="#000" stroke-width="1.3"/>
<rect x="379.6" y="131.3" width="7.8" height="7.8" fill="#fff" stroke="#000" stroke-width="1.1"/>
<text x="408.8" y="137.2" font-size="10.3" font-weight="bold" text-anchor="start" fill="#000" textLength="21.2" lengthAdjust="spacingAndGlyphs" >#134</text>
<line x1="367.1" y1="151.5" x2="398" y2="151.5" stroke="#000" stroke-width="1.3"/>
<path d="M383.5,148.1 L386.2,151.5 L383.5,154.9 L380.8,151.5 Z" fill="#fff" stroke="#000" stroke-width="1.0"/>
<text x="408.8" y="153.3" font-size="10.3" font-weight="bold" text-anchor="start" fill="#000" textLength="21.2" lengthAdjust="spacingAndGlyphs" >#162</text>
<line x1="367.1" y1="165.9" x2="398.5" y2="165.9" stroke="#000" stroke-width="1.1" stroke-dasharray="1.1,1.3"/>
<circle cx="383.5" cy="165.9" r="3.8" fill="#fff" stroke="#000" stroke-width="1.1"/>
<text x="408.8" y="168.5" font-size="10.3" font-weight="bold" text-anchor="start" fill="#000" textLength="21.2" lengthAdjust="spacingAndGlyphs" >#330</text>
<line x1="367.1" y1="180.2" x2="398.5" y2="180.2" stroke="#000" stroke-width="1.1" stroke-dasharray="1.1,1.3"/>
<path d="M383.5,176.2 L387.2,183.6 L379.8,183.6 Z" fill="#fff" stroke="#000" stroke-width="1.0"/>
<text x="408.8" y="182.7" font-size="10.3" font-weight="bold" text-anchor="start" fill="#000" textLength="21.2" lengthAdjust="spacingAndGlyphs" >#364</text>
<line x1="66.5" y1="284.6" x2="66.5" y2="449" stroke="#000" stroke-width="1.2"/>
<line x1="65.9" y1="448.4" x2="214.5" y2="448.4" stroke="#000" stroke-width="1.3"/>
<line x1="62" y1="284.6" x2="66.5" y2="284.6" stroke="#000" stroke-width="1.2"/>
<text x="56.7" y="286.4" font-size="8.3" font-weight="normal" text-anchor="end" fill="#000" textLength="17.6" lengthAdjust="spacingAndGlyphs" >1.25</text>
<line x1="62" y1="320.0" x2="66.5" y2="320.0" stroke="#000" stroke-width="1.2"/>
<text x="56.7" y="321.8" font-size="8.3" font-weight="normal" text-anchor="end" fill="#000" textLength="17.6" lengthAdjust="spacingAndGlyphs" >1.00</text>
<line x1="62" y1="355.4" x2="66.5" y2="355.4" stroke="#000" stroke-width="1.2"/>
<text x="56.7" y="357.2" font-size="8.3" font-weight="normal" text-anchor="end" fill="#000" textLength="17.6" lengthAdjust="spacingAndGlyphs" >0.75</text>
<line x1="62" y1="390.8" x2="66.5" y2="390.8" stroke="#000" stroke-width="1.2"/>
<text x="56.7" y="392.6" font-size="8.3" font-weight="normal" text-anchor="end" fill="#000" textLength="17.6" lengthAdjust="spacingAndGlyphs" >0.50</text>
<line x1="62" y1="426.2" x2="66.5" y2="426.2" stroke="#000" stroke-width="1.2"/>
<text x="56.7" y="428.0" font-size="8.3" font-weight="normal" text-anchor="end" fill="#000" textLength="17.6" lengthAdjust="spacingAndGlyphs" >0.25</text>
<line x1="75.8" y1="448.4" x2="75.8" y2="452.5" stroke="#000" stroke-width="1.1"/>
<line x1="94.2" y1="448.4" x2="94.2" y2="452.5" stroke="#000" stroke-width="1.1"/>
<line x1="112.7" y1="448.4" x2="112.7" y2="452.5" stroke="#000" stroke-width="1.1"/>
<line x1="131.1" y1="448.4" x2="131.1" y2="452.5" stroke="#000" stroke-width="1.1"/>
<line x1="149.5" y1="448.4" x2="149.5" y2="452.5" stroke="#000" stroke-width="1.1"/>
<line x1="167.9" y1="448.4" x2="167.9" y2="452.5" stroke="#000" stroke-width="1.1"/>
<line x1="186.4" y1="448.4" x2="186.4" y2="452.5" stroke="#000" stroke-width="1.1"/>
<line x1="204.8" y1="448.4" x2="204.8" y2="452.5" stroke="#000" stroke-width="1.1"/>
<text x="75.6" y="462.9" font-size="8.3" font-weight="normal" text-anchor="middle" fill="#000" textLength="4.3" lengthAdjust="spacingAndGlyphs" >0</text>
<text x="94.0" y="462.9" font-size="8.3" font-weight="normal" text-anchor="middle" fill="#000" textLength="4.3" lengthAdjust="spacingAndGlyphs" >0</text>
<text x="112.5" y="462.9" font-size="8.3" font-weight="normal" text-anchor="middle" fill="#000" textLength="11" lengthAdjust="spacingAndGlyphs" >0.1</text>
<text x="130.4" y="462.9" font-size="8.3" font-weight="normal" text-anchor="middle" fill="#000" textLength="3.3" lengthAdjust="spacingAndGlyphs" >1</text>
<text x="149.8" y="462.9" font-size="8.3" font-weight="normal" text-anchor="middle" fill="#000" textLength="9.5" lengthAdjust="spacingAndGlyphs" >10</text>
<text x="168.8" y="462.9" font-size="8.3" font-weight="normal" text-anchor="middle" fill="#000" textLength="15" lengthAdjust="spacingAndGlyphs" >100</text>
<text x="188.1" y="468.7" font-size="8.3" font-weight="normal" text-anchor="middle" fill="#000" textLength="21" lengthAdjust="spacingAndGlyphs" >1000</text>
<text x="214.1" y="462.9" font-size="8.3" font-weight="normal" text-anchor="middle" fill="#000" textLength="25.7" lengthAdjust="spacingAndGlyphs" >10000</text>
<text x="112.0" y="480.7" font-size="9.6" font-weight="normal" text-anchor="start" fill="#000" textLength="78.3" lengthAdjust="spacingAndGlyphs" >Rapamycin (nM)</text>
<text transform="translate(30.9,411.4) rotate(-90)" font-size="10.3" textLength="92.6" lengthAdjust="spacingAndGlyphs">Relative Cell Survival</text>
<path d="M75.8,320.0 L94.2,318.6 L112.7,386.6 L131.1,396.5 L149.5,397.9 L167.9,399.3 L186.4,394.3 L204.8,388.0" fill="none" stroke="#000" stroke-width="1.3" stroke-dasharray="1.4,1.8"/>
<path d="M75.8,320.0 L94.2,358.2 L112.7,414.9 L131.1,431.9 L149.5,431.9 L167.9,433.3 L186.4,433.3 L204.8,431.9" fill="none" stroke="#000" stroke-width="1.3" stroke-dasharray="1.4,4.8"/>
<circle cx="75.8" cy="320.0" r="4.0" fill="#151515" stroke="#000" stroke-width="0.8"/>
<circle cx="94.2" cy="318.6" r="4.0" fill="#151515" stroke="#000" stroke-width="0.8"/>
<circle cx="112.7" cy="386.6" r="4.0" fill="#151515" stroke="#000" stroke-width="0.8"/>
<circle cx="131.1" cy="396.5" r="4.0" fill="#151515" stroke="#000" stroke-width="0.8"/>
<circle cx="149.5" cy="397.9" r="4.0" fill="#151515" stroke="#000" stroke-width="0.8"/>
<circle cx="167.9" cy="399.3" r="4.0" fill="#151515" stroke="#000" stroke-width="0.8"/>
<circle cx="186.4" cy="394.3" r="4.0" fill="#151515" stroke="#000" stroke-width="0.8"/>
<circle cx="204.8" cy="388.0" r="4.0" fill="#151515" stroke="#000" stroke-width="0.8"/>
<rect x="71.8" y="316.0" width="8.0" height="8.0" fill="#151515" stroke="#000" stroke-width="0.8"/>
<rect x="90.2" y="354.2" width="8.0" height="8.0" fill="#151515" stroke="#000" stroke-width="0.8"/>
<rect x="108.7" y="410.9" width="8.0" height="8.0" fill="#151515" stroke="#000" stroke-width="0.8"/>
<rect x="127.1" y="427.9" width="8.0" height="8.0" fill="#151515" stroke="#000" stroke-width="0.8"/>
<rect x="145.5" y="427.9" width="8.0" height="8.0" fill="#151515" stroke="#000" stroke-width="0.8"/>
<rect x="163.9" y="429.3" width="8.0" height="8.0" fill="#151515" stroke="#000" stroke-width="0.8"/>
<rect x="182.4" y="429.3" width="8.0" height="8.0" fill="#151515" stroke="#000" stroke-width="0.8"/>
<rect x="200.8" y="427.9" width="8.0" height="8.0" fill="#151515" stroke="#000" stroke-width="0.8"/>
<line x1="127.8" y1="307.5" x2="158" y2="307.5" stroke="#000" stroke-width="1.3" stroke-dasharray="1.4,1.8"/>
<line x1="127.8" y1="319.2" x2="158" y2="319.2" stroke="#000" stroke-width="1.3" stroke-dasharray="1.4,4.8"/>
<circle cx="143.4" cy="307.2" r="3.9" fill="#151515" stroke="#000" stroke-width="0.8"/>
<rect x="139.3" y="315.1" width="8.3" height="8.3" fill="#151515" stroke="#000" stroke-width="0.8"/>
<text x="169.3" y="311.4" font-size="9.2" font-weight="normal" text-anchor="start" fill="#000" textLength="28.9" lengthAdjust="spacingAndGlyphs" >364 7d</text>
<text x="169.3" y="322.7" font-size="9.2" font-weight="normal" text-anchor="start" fill="#000" textLength="28.9" lengthAdjust="spacingAndGlyphs" >330 7d</text>
<line x1="356.6" y1="276.7" x2="356.6" y2="450.8" stroke="#000" stroke-width="1.3"/>
<line x1="356" y1="450.1" x2="512.3" y2="450.1" stroke="#000" stroke-width="1.4"/>
<line x1="352.8" y1="277.2" x2="356.6" y2="277.2" stroke="#000" stroke-width="1.2"/>
<text x="344.6" y="279.4" font-size="8.4" font-weight="bold" text-anchor="end" fill="#000" textLength="16.5" lengthAdjust="spacingAndGlyphs" >1.25</text>
<line x1="352.8" y1="314.6" x2="356.6" y2="314.6" stroke="#000" stroke-width="1.2"/>
<text x="344.6" y="316.8" font-size="8.4" font-weight="bold" text-anchor="end" fill="#000" textLength="16.5" lengthAdjust="spacingAndGlyphs" >1.00</text>
<line x1="352.8" y1="352.0" x2="356.6" y2="352.0" stroke="#000" stroke-width="1.2"/>
<text x="344.6" y="354.2" font-size="8.4" font-weight="bold" text-anchor="end" fill="#000" textLength="16.5" lengthAdjust="spacingAndGlyphs" >0.75</text>
<line x1="352.8" y1="389.4" x2="356.6" y2="389.4" stroke="#000" stroke-width="1.2"/>
<text x="344.6" y="391.6" font-size="8.4" font-weight="bold" text-anchor="end" fill="#000" textLength="16.5" lengthAdjust="spacingAndGlyphs" >0.50</text>
<line x1="352.8" y1="426.8" x2="356.6" y2="426.8" stroke="#000" stroke-width="1.2"/>
<text x="344.6" y="429.0" font-size="8.4" font-weight="bold" text-anchor="end" fill="#000" textLength="16.5" lengthAdjust="spacingAndGlyphs" >0.25</text>
<line x1="367.0" y1="450.1" x2="367.0" y2="454" stroke="#000" stroke-width="1.1"/>
<line x1="386.4" y1="450.1" x2="386.4" y2="454" stroke="#000" stroke-width="1.1"/>
<line x1="405.9" y1="450.1" x2="405.9" y2="454" stroke="#000" stroke-width="1.1"/>
<line x1="425.3" y1="450.1" x2="425.3" y2="454" stroke="#000" stroke-width="1.1"/>
<line x1="444.7" y1="450.1" x2="444.7" y2="454" stroke="#000" stroke-width="1.1"/>
<line x1="464.1" y1="450.1" x2="464.1" y2="454" stroke="#000" stroke-width="1.1"/>
<line x1="483.6" y1="450.1" x2="483.6" y2="454" stroke="#000" stroke-width="1.1"/>
<line x1="503.0" y1="450.1" x2="503.0" y2="454" stroke="#000" stroke-width="1.1"/>
<text x="370.2" y="465.4" font-size="7.3" font-weight="normal" text-anchor="middle" fill="#000" textLength="3.8" lengthAdjust="spacingAndGlyphs" stroke="#000" stroke-width="0.12">0</text>
<text x="387.0" y="465.4" font-size="7.3" font-weight="normal" text-anchor="middle" fill="#000" textLength="3.8" lengthAdjust="spacingAndGlyphs" stroke="#000" stroke-width="0.12">0</text>
<text x="404.6" y="465.4" font-size="7.3" font-weight="normal" text-anchor="middle" fill="#000" textLength="9.2" lengthAdjust="spacingAndGlyphs" stroke="#000" stroke-width="0.12">0.1</text>
<text x="425.2" y="465.4" font-size="7.3" font-weight="normal" text-anchor="middle" fill="#000" textLength="2.8" lengthAdjust="spacingAndGlyphs" stroke="#000" stroke-width="0.12">1</text>
<text x="444.2" y="465.4" font-size="7.3" font-weight="normal" text-anchor="middle" fill="#000" textLength="7.1" lengthAdjust="spacingAndGlyphs" stroke="#000" stroke-width="0.12">10</text>
<text x="465.0" y="465.4" font-size="7.3" font-weight="normal" text-anchor="middle" fill="#000" textLength="12.9" lengthAdjust="spacingAndGlyphs" stroke="#000" stroke-width="0.12">100</text>
<text x="483.7" y="469.3" font-size="7.3" font-weight="normal" text-anchor="middle" fill="#000" textLength="18.4" lengthAdjust="spacingAndGlyphs" stroke="#000" stroke-width="0.12">1000</text>
<text x="508.0" y="465.4" font-size="7.3" font-weight="normal" text-anchor="middle" fill="#000" textLength="22.3" lengthAdjust="spacingAndGlyphs" stroke="#000" stroke-width="0.12">10000</text>
<text x="398.0" y="482.5" font-size="8.9" font-weight="bold" text-anchor="start" fill="#000" textLength="79.6" lengthAdjust="spacingAndGlyphs" stroke="#000" stroke-width="0.3">Rapamycin (nM)</text>
<text transform="translate(321.4,409) rotate(-90)" font-size="9.4" font-weight="bold" textLength="97.3" lengthAdjust="spacingAndGlyphs" stroke="#000" stroke-width="0.2">Relative Cell Survival</text>
<path d="M367.0,314.6 L386.4,323.6 L405.9,335.5 L425.3,320.6 L444.7,329.6 L464.1,336.3 L483.6,324.3 L503.0,325.1" fill="none" stroke="#000" stroke-width="1.4" stroke-dasharray="2.5,1.5,1,1.5"/>
<path d="M367.0,314.6 L386.4,308.6 L405.9,305.6 L425.3,320.6 L444.7,301.1 L464.1,305.6 L483.6,311.6 L503.0,319.1" fill="none" stroke="#000" stroke-width="1.4" stroke-dasharray="2.6,1.8"/>
<circle cx="367.0" cy="314.6" r="3.9" fill="#111" stroke="#000" stroke-width="0.9"/>
<circle cx="386.4" cy="323.6" r="3.9" fill="#111" stroke="#000" stroke-width="0.9"/>
<circle cx="405.9" cy="335.5" r="3.9" fill="#111" stroke="#000" stroke-width="0.9"/>
<circle cx="425.3" cy="320.6" r="3.9" fill="#111" stroke="#000" stroke-width="0.9"/>
<circle cx="444.7" cy="329.6" r="3.9" fill="#111" stroke="#000" stroke-width="0.9"/>
<circle cx="464.1" cy="336.3" r="3.9" fill="#111" stroke="#000" stroke-width="0.9"/>
<circle cx="483.6" cy="324.3" r="3.9" fill="#111" stroke="#000" stroke-width="0.9"/>
<circle cx="503.0" cy="325.1" r="3.9" fill="#111" stroke="#000" stroke-width="0.9"/>
<circle cx="367.0" cy="314.6" r="3.8" fill="#fff" stroke="#000" stroke-width="1.4"/>
<circle cx="386.4" cy="308.6" r="3.8" fill="#fff" stroke="#000" stroke-width="1.4"/>
<circle cx="405.9" cy="305.6" r="3.8" fill="#fff" stroke="#000" stroke-width="1.4"/>
<circle cx="425.3" cy="320.6" r="3.8" fill="#fff" stroke="#000" stroke-width="1.4"/>
<circle cx="444.7" cy="301.1" r="3.8" fill="#fff" stroke="#000" stroke-width="1.4"/>
<circle cx="464.1" cy="305.6" r="3.8" fill="#fff" stroke="#000" stroke-width="1.4"/>
<circle cx="483.6" cy="311.6" r="3.8" fill="#fff" stroke="#000" stroke-width="1.4"/>
<circle cx="503.0" cy="319.1" r="3.8" fill="#fff" stroke="#000" stroke-width="1.4"/>
<line x1="374.8" y1="385" x2="407.2" y2="385" stroke="#000" stroke-width="1.5" stroke-dasharray="2.6,1.8"/>
<line x1="374.8" y1="400.1" x2="407.2" y2="400.1" stroke="#000" stroke-width="1.5" stroke-dasharray="2.5,1.5,1,1.5"/>
<circle cx="391.6" cy="385.0" r="3.6" fill="#fff" stroke="#000" stroke-width="1.4"/>
<circle cx="391.6" cy="400.1" r="4.1" fill="#111" stroke="#000" stroke-width="0.9"/>
<text x="419.3" y="388.5" font-size="9.1" font-weight="bold" text-anchor="start" fill="#000" textLength="36.4" lengthAdjust="spacingAndGlyphs" >CD 34 2d</text>
<text x="419.3" y="403.6" font-size="9.1" font-weight="bold" text-anchor="start" fill="#000" textLength="36.4" lengthAdjust="spacingAndGlyphs" >CD 34 7d</text>
</svg></body></html>
